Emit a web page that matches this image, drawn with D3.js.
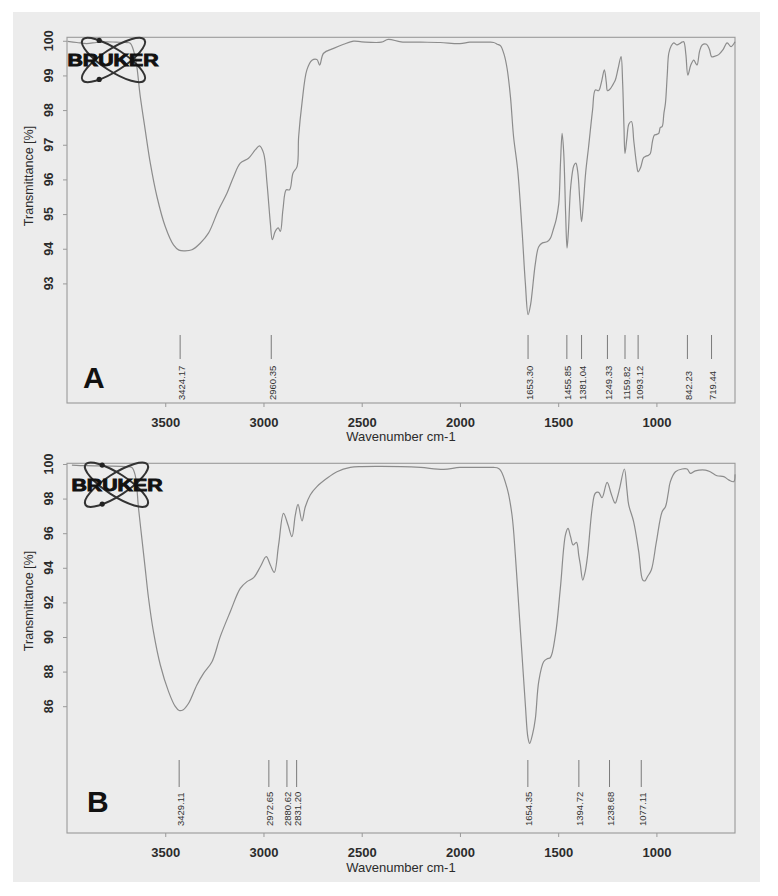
<!DOCTYPE html>
<html><head><meta charset="utf-8">
<script src="https://cdn.jsdelivr.net/npm/d3@7"></script>
<style>
html,body{margin:0;padding:0;background:#fff;}
text{font-family:"Liberation Sans",Arial,sans-serif;}
</style></head>
<body>
<svg id="chart" width="778" height="896"></svg>
<script>
// ---------- DATA ----------
const xTicks = [3500, 3000, 2500, 2000, 1500, 1000];
const yTicksA = [93, 94, 95, 96, 97, 98, 99, 100];
const yTicksB = [86, 88, 90, 92, 94, 96, 98, 100];

const peaksA = ["3424.17","2960.35","1653.30","1455.85","1381.04","1249.33","1159.82","1093.12","842.23","719.44"];
const peaksB = ["3429.11","2972.65","2880.62","2831.20","1654.35","1394.72","1238.68","1077.11"];

const wnA = [3997,3950,3900,3850,3800,3750,3700,3678,3653,3627,3602,3576,3542,3500,3458,3430,3400,3364,3322,3280,3229,3186,3152,3118,3076,3042,3020,2999,2982,2965,2955,2940,2925,2914,2901,2884,2867,2850,2829,2821,2804,2779,2753,2728,2714,2694,2643,2592,2541,2500,2400,2365,2300,2200,2100,2000,1950,1900,1850,1828,1810,1794,1775,1760,1743,1727,1706,1684,1667,1653,1640,1633,1616,1599,1580,1557,1540,1523,1510,1497,1488,1480,1472,1462,1455,1448,1436,1420,1410,1400,1390,1381,1372,1360,1345,1325,1311,1294,1280,1265,1255,1249,1237,1220,1209,1195,1180,1172,1165,1160,1150,1140,1127,1115,1100,1093,1080,1066,1056,1040,1031,1020,1010,998,988,980,971,962,954,945,937,925,912,895,881,870,861,850,840,825,810,800,793,780,767,745,730,719,705,683,660,640,620,600];
const tA = [99.98,99.95,99.92,99.95,99.97,99.96,99.95,99.93,99.54,98.39,97.43,96.47,95.5,94.64,94.11,93.96,93.94,93.97,94.16,94.45,95.12,95.6,96.08,96.47,96.61,96.85,96.97,96.75,95.89,94.74,94.26,94.5,94.6,94.5,95.12,95.7,95.7,96.18,96.37,97.23,98.2,99.16,99.44,99.46,99.3,99.64,99.78,99.9,99.99,99.97,99.96,100.04,99.97,99.96,99.95,99.92,99.96,99.96,99.96,99.95,99.9,99.86,99.6,99.2,98.39,97.23,96.27,94.54,93.0,92.1,92.4,92.72,93.58,94.06,94.17,94.2,94.3,94.59,94.85,95.3,96.5,97.33,96.8,95.0,94.02,94.5,95.8,96.4,96.47,96.2,95.4,94.78,95.3,96.2,96.95,98.0,98.58,98.56,98.8,99.16,98.8,98.56,98.6,98.75,98.87,99.2,99.54,98.8,97.5,96.75,97.2,97.6,97.67,97.1,96.4,96.22,96.35,96.62,96.66,96.7,96.75,97.1,97.28,97.3,97.33,97.5,97.52,97.9,98.2,99.0,99.64,99.85,99.94,99.88,99.92,99.96,99.97,99.6,99.01,99.3,99.44,99.35,99.3,99.7,99.88,99.9,99.75,99.54,99.55,99.6,99.75,99.94,99.83,99.97];

const wnB = [3975,3900,3800,3700,3670,3653,3636,3619,3602,3585,3560,3525,3483,3450,3429,3410,3381,3339,3305,3262,3220,3169,3118,3084,3050,3016,2986,2965,2945,2923,2898,2875,2855,2838,2824,2804,2787,2762,2728,2677,2626,2558,2500,2400,2300,2200,2083,2000,1900,1828,1811,1794,1760,1735,1718,1701,1684,1667,1654,1645,1630,1616,1599,1574,1555,1540,1514,1489,1463,1450,1437,1424,1407,1395,1387,1375,1362,1350,1327,1311,1294,1277,1251,1231,1215,1209,1198,1187,1163,1150,1141,1116,1090,1070,1059,1045,1026,1000,971,954,940,929,903,869,844,827,802,751,726,692,657,632,606,600];
const tB = [99.94,99.9,99.88,99.85,99.8,99.36,97.44,95.7,93.97,92.24,90.31,88.38,86.84,86.0,85.75,85.78,86.17,87.23,87.9,88.57,90.02,91.46,92.81,93.2,93.43,94.06,94.64,94.16,93.74,95.32,97.15,96.47,95.8,97.05,97.67,96.71,97.53,98.21,98.69,99.17,99.55,99.8,99.85,99.86,99.85,99.8,99.69,99.8,99.8,99.8,99.78,99.65,98.6,97.05,94.74,91.85,88.96,86.07,84.2,83.85,84.4,85.3,87.42,88.57,88.75,88.8,90.12,92.81,95.9,96.28,95.8,95.32,95.47,94.7,94.16,93.29,93.8,94.74,97.44,98.31,98.36,98.05,98.94,98.31,97.8,97.73,98.1,98.6,99.71,98.5,97.63,96.67,94.93,93.3,93.24,93.5,93.87,95.51,97.24,97.53,98.3,98.98,99.55,99.71,99.71,99.46,99.6,99.65,99.55,99.32,99.27,99.08,98.98,99.4];

// ---------- LAYOUT ----------
const svg = d3.select("#chart");
svg.append("rect").attr("x",13).attr("y",12).attr("width",747).attr("height",870).attr("fill","#ececec");

const x = d3.scaleLinear().domain([4000, 600]).range([67, 735]);

const panels = [
  {wn: wnA, t: tA, yTicks: yTicksA, peaks: peaksA, letter: "A",
   yDomain: [89.55, 100.1], yRange: [403, 37.3],
   peakTop: 335, peakBot: 359, peakText: 400, letterY: 388, letterX: 83,
   logo: {cx: 113.5, cy: 60, tx: 67.5, ty: 65.5}, xTitleY: 441, yTitleY: 176},
  {wn: wnB, t: tB, yTicks: yTicksB, peaks: peaksB, letter: "B",
   yDomain: [78.67, 100.04], yRange: [833, 463.3],
   peakTop: 760, peakBot: 787, peakText: 826, letterY: 812, letterX: 87,
   logo: {cx: 116.5, cy: 484.7, tx: 71.5, ty: 490.5}, xTitleY: 872, yTitleY: 601}
];

const frameColor = "#9a9a9a";

panels.forEach(p => {
  const y = d3.scaleLinear().domain(p.yDomain).range(p.yRange);
  const g = svg.append("g");
  const top = p.yRange[1], bot = p.yRange[0];

  // frame
  g.append("rect").attr("x", x.range()[0]).attr("y", top)
    .attr("width", x.range()[1]-x.range()[0]).attr("height", bot-top)
    .attr("fill","none").attr("stroke", frameColor).attr("stroke-width",1.1);

  // x axis
  const xa = g.append("g").attr("transform", `translate(0,${bot})`)
    .call(d3.axisBottom(x).tickValues(xTicks).tickSize(4).tickPadding(11).tickFormat(d3.format("d")));
  xa.select(".domain").remove();
  xa.selectAll("line").attr("stroke", frameColor);
  xa.selectAll("text").attr("font-size", 13).attr("font-weight","bold").attr("fill","#2b2b2b")
    .attr("font-family","'Liberation Sans',Arial,sans-serif");

  // y axis
  const ya = g.append("g").attr("transform", `translate(${x.range()[0]},0)`)
    .call(d3.axisLeft(y).tickValues(p.yTicks).tickSize(4).tickFormat(""));
  ya.select(".domain").remove();
  ya.selectAll("line").attr("stroke", frameColor);
  g.selectAll(".ylab").data(p.yTicks).enter().append("text")
    .attr("transform", d => `translate(53,${y(d)}) rotate(-90)`)
    .attr("text-anchor","middle").attr("font-size",12.5).attr("font-weight","bold")
    .attr("fill","#2b2b2b").text(d => d);

  // titles
  g.append("text").attr("transform", `translate(33,${p.yTitleY}) rotate(-90)`)
    .attr("text-anchor","middle").attr("font-size",12.5).attr("fill","#2b2b2b")
    .text("Transmittance [%]");
  g.append("text").attr("x", 401).attr("y", p.xTitleY)
    .attr("text-anchor","middle").attr("font-size",13).attr("fill","#2b2b2b")
    .text("Wavenumber cm-1");

  // peak markers
  p.peaks.forEach(s => {
    const px = x(parseFloat(s));
    g.append("line").attr("x1",px).attr("x2",px).attr("y1",p.peakTop).attr("y2",p.peakBot)
      .attr("stroke","#7a7a7a").attr("stroke-width",1);
    g.append("text").attr("transform", `translate(${px+4.5},${p.peakText}) rotate(-90)`)
      .attr("text-anchor","start").attr("font-size",9.5).attr("fill","#333").text(s);
  });

  // spectrum line
  const pts = p.wn.map((w,i) => [w, p.t[i]]);
  g.append("path").datum(pts)
    .attr("d", d3.line().x(d => x(d[0])).y(d => y(d[1])).curve(d3.curveCatmullRom.alpha(0.5)))
    .attr("fill","none").attr("stroke","#8c8c8c").attr("stroke-width",1.2);

  // panel letter
  g.append("text").attr("x", p.letterX).attr("y", p.letterY)
    .attr("font-size", 30).attr("font-weight","bold").attr("fill","#111").text(p.letter);

  // logo
  const L = p.logo;
  const lg = g.append("g");
  [33, -33].forEach(a => {
    lg.append("ellipse").attr("cx",0).attr("cy",0).attr("rx",37).attr("ry",11)
      .attr("transform", `translate(${L.cx},${L.cy}) rotate(${a})`)
      .attr("fill","none").attr("stroke","#333").attr("stroke-width",2);
  });
  lg.append("circle").attr("cx",L.cx-14.3).attr("cy",L.cy-19.6).attr("r",2.6).attr("fill","#222");
  lg.append("circle").attr("cx",L.cx-14.3).attr("cy",L.cy+19.4).attr("r",2.6).attr("fill","#222");
  lg.append("text").attr("x",L.tx).attr("y",L.ty)
    .attr("font-family","'DejaVu Sans',sans-serif").attr("font-weight","bold").attr("font-size",16)
    .attr("textLength",91).attr("lengthAdjust","spacingAndGlyphs")
    .attr("fill","#111").attr("stroke","#111").attr("stroke-width",0.9).text("BRUKER");
});
</script>
</body></html>
